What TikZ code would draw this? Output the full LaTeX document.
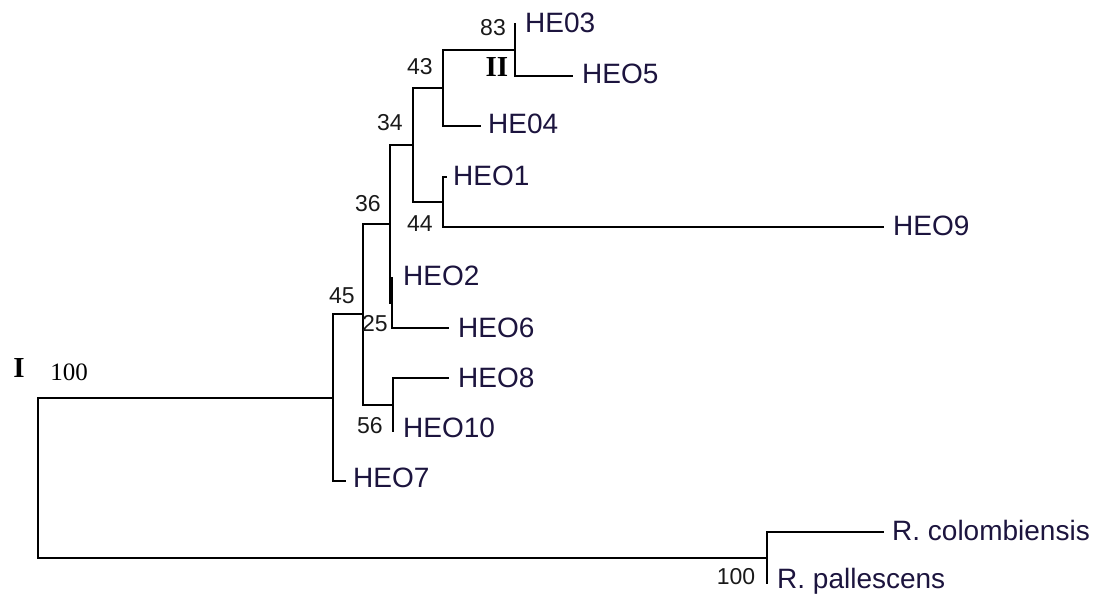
\documentclass[tikz,border=0pt]{standalone}
\usepackage{fontspec}
\setmainfont{Liberation Sans}
\newfontfamily\seriffont{Liberation Serif}
\definecolor{leafcol}{RGB}{28,20,62}
\definecolor{bootcol}{RGB}{25,25,25}
\tikzset{
  branch/.style={line width=2pt, black, line cap=rect},
  leaf/.style={anchor=base west, inner sep=0pt, text=leafcol, font=\fontsize{28}{32}\selectfont},
  boot/.style={anchor=center, inner sep=0pt, text=bootcol, font=\fontsize{23}{26}\selectfont},
  roman/.style={anchor=center, inner sep=0pt, font=\seriffont\bfseries\fontsize{29}{32}\selectfont},
  romannum/.style={anchor=center, inner sep=0pt, font=\seriffont\fontsize{25}{28}\selectfont}
}
\begin{document}
\begin{tikzpicture}[x=1pt,y=-1pt]
\useasboundingbox (0,0) rectangle (1096,598);
% internal nodes
\coordinate (root) at (38,477.5);
\coordinate (nIn) at (333,398);
\coordinate (nOut) at (767,557.5);
\coordinate (n45) at (363,314);
\coordinate (n36) at (390,224);
\coordinate (n34) at (413,145);
\coordinate (n43) at (443,88);
\coordinate (n83) at (515,50);
\coordinate (n44) at (443,202);
\coordinate (n25) at (392,303);
\coordinate (n56) at (393,404.5);
% leaf tips
\coordinate (tHE03) at (515,24);
\coordinate (tHEO5) at (572,76);
\coordinate (tHE04) at (480,126);
\coordinate (tHEO1) at (446,177);
\coordinate (tHEO9) at (883,227);
\coordinate (tHEO2) at (392,278);
\coordinate (tHEO6) at (448,328);
\coordinate (tHEO8) at (448,378);
\coordinate (tHEO10) at (393,431);
\coordinate (tHEO7) at (345,481);
\coordinate (tRcol) at (883,532);
\coordinate (tRpal) at (767,583);
% branches
\draw[branch] (nIn) -| (root) |- (nOut);
\draw[branch] (n45) -| (nIn) |- (tHEO7);
\draw[branch] (n36) -| (n45) |- (n56);
\draw[branch] (n34) -| (n36) |- (n25);
\draw[branch] (n43) -| (n34) |- (n44);
\draw[branch] (n83) -| (n43) |- (tHE04);
\draw[branch] (tHE03) -| (n83) |- (tHEO5);
\draw[branch] (tHEO1) -| (n44) |- (tHEO9);
\draw[branch] (tHEO2) -| (n25) |- (tHEO6);
\draw[branch] (tHEO8) -| (n56) |- (tHEO10);
\draw[branch] (tRcol) -| (nOut) |- (tRpal);
% leaf labels
\node[leaf] (lHE03) at ([shift={(10,8)}]tHE03) {HE03};
\node[leaf] (lHEO5) at ([shift={(10,7)}]tHEO5) {HEO5};
\node[leaf] (lHE04) at ([shift={(8,7)}]tHE04) {HE04};
\node[leaf] (lHEO1) at ([shift={(7,8)}]tHEO1) {HEO1};
\node[leaf] (lHEO9) at ([shift={(10,8)}]tHEO9) {HEO9};
\node[leaf] (lHEO2) at ([shift={(11,7)}]tHEO2) {HEO2};
\node[leaf] (lHEO6) at ([shift={(10,9)}]tHEO6) {HEO6};
\node[leaf] (lHEO8) at ([shift={(10,9)}]tHEO8) {HEO8};
\node[leaf] (lHEO10) at ([shift={(10,6)}]tHEO10) {HEO10};
\node[leaf] (lHEO7) at ([shift={(8,6)}]tHEO7) {HEO7};
\node[leaf] (lRcol) at ([shift={(9,8)}]tRcol) {R. colombiensis};
\node[leaf] (lRpal) at ([shift={(10,5)}]tRpal) {R. pallescens};
% bootstrap values
\node[boot] (b83) at (493,28) {83};
\node[boot] (b43) at (420,67) {43};
\node[boot] (b34) at (390,123) {34};
\node[boot] (b36) at (368,204) {36};
\node[boot] (b44) at (420,224) {44};
\node[boot] (b45) at (342,296) {45};
\node[boot] (b25) at (375,324) {25};
\node[boot] (b56) at (370,426) {56};
\node[boot] (b100) at (736,577) {100};
% annotations
\node[roman] (rI) at (19,368) {I};
\node[romannum] (r100) at (69,372) {100};
\node[roman] (rII) at (497,67) {II};
\end{tikzpicture}
\end{document}
